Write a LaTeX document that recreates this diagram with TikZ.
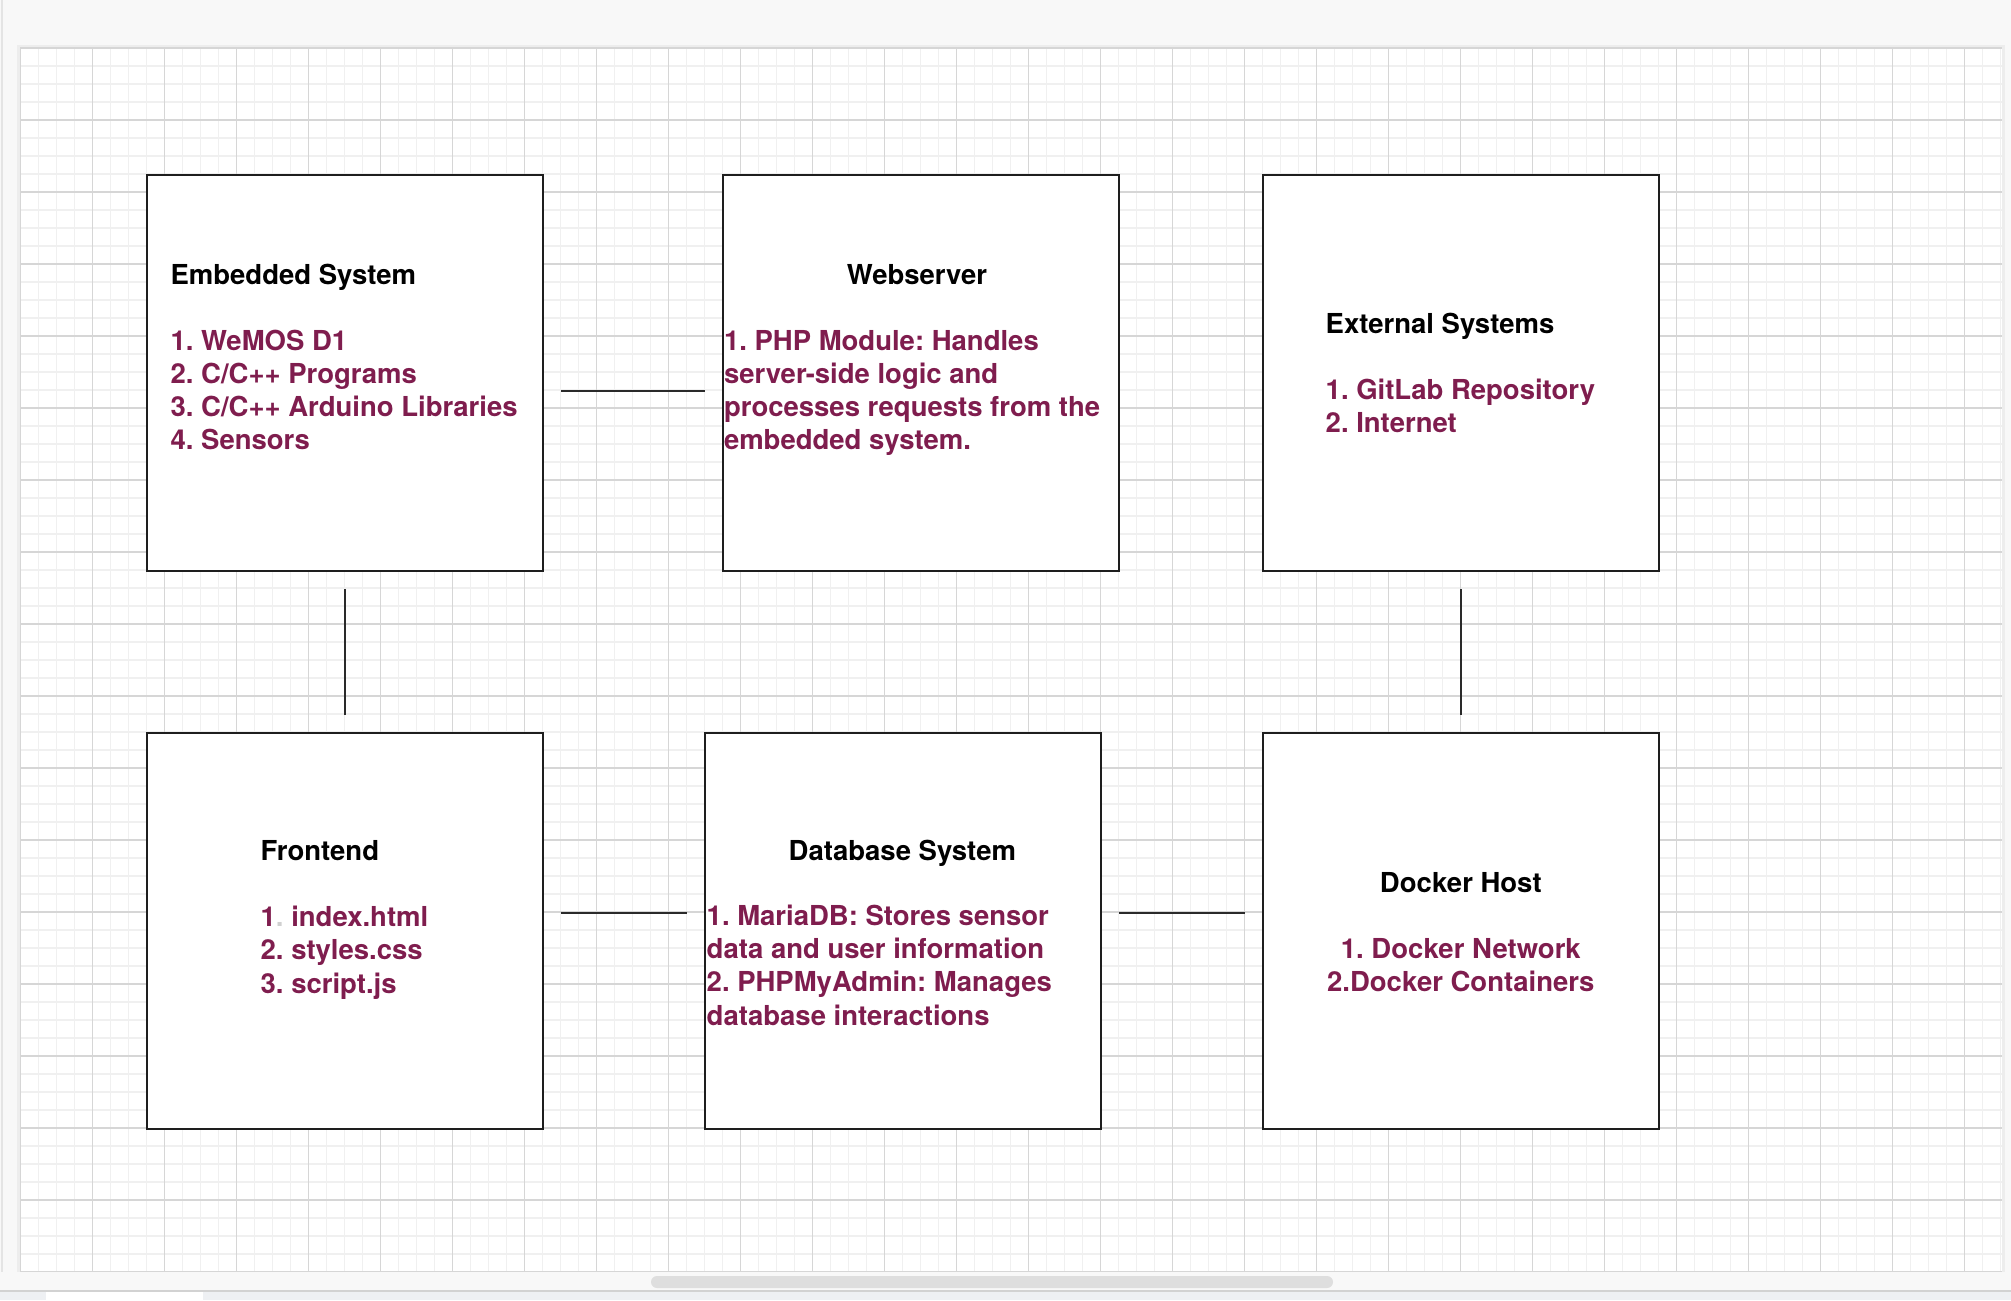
\documentclass[tikz,border=0pt]{standalone}
\usepackage{fontspec}
\setmainfont{TeX Gyre Heros}
\definecolor{itemc}{HTML}{7F1D4E}
\definecolor{dotgray}{HTML}{D0D0D0}
\definecolor{pagebg}{HTML}{F8F8F8}
\definecolor{minorc}{HTML}{F0F0F0}
\definecolor{majorc}{HTML}{D6D6D6}
\definecolor{boxc}{HTML}{1E1E1E}
\definecolor{connc}{HTML}{2A2A2A}
\definecolor{leftc}{HTML}{E4E4E4}
\definecolor{shadowc}{HTML}{EDEDED}
\definecolor{scrollc}{HTML}{DEDEDE}
\definecolor{tabbarc}{HTML}{EEF0F3}
\definecolor{tabline}{HTML}{D2D2D2}
\begin{document}
\begin{tikzpicture}[x=0.5pt,y=-0.5pt,
  boxnode/.style={draw=boxc, fill=white, line width=1pt, minimum width=198pt, minimum height=198pt, inner sep=0pt, outer sep=0pt},
  conn/.style={draw=connc, line width=1pt, shorten <=9pt, shorten >=9pt},
  txt/.style={inner sep=0pt, outer sep=0pt, font=\fontsize{13.75pt}{16.5pt}\selectfont\bfseries\frenchspacing},
  txtb/.style={inner sep=0pt, outer sep=0pt, font=\fontsize{13.75pt}{16.7pt}\selectfont\bfseries\frenchspacing},
  minorline/.style={draw=minorc, line width=0.6pt},
  majorline/.style={draw=majorc, line width=0.6pt}]
\useasboundingbox (0,0) rectangle (2011,1300);
% page background
\fill[pagebg] (0,0) rectangle (2011,1300);
\draw[draw=leftc, line width=0.6pt] (2,0) -- (2,1290);
% canvas with faint shadow
\fill[shadowc] (17,45) rectangle (2005,1274);
\fill[white] (20,48) rectangle (2002,1272);
% grid
\foreach \i in {0,...,110} \draw[minorline] ({20.5+18*\i},48) -- ({20.5+18*\i},1272);
\foreach \j in {0,...,68} \draw[minorline] (20,{48+18*\j}) -- (2002,{48+18*\j});
\foreach \i in {0,...,27} \draw[majorline] ({20.5+72*\i},48) -- ({20.5+72*\i},1272);
\foreach \j in {0,...,17} \draw[majorline] (20,{48+72*\j}) -- (2002,{48+72*\j});
% bottom bar
\fill[pagebg] (0,1272) rectangle (2011,1290);
\fill[scrollc, rounded corners=3pt] (651,1276) rectangle (1333,1288);
\fill[tabbarc] (0,1291) rectangle (2011,1300);
\draw[draw=tabline, line width=1pt] (0,1291) -- (2011,1291);
\fill[white] (46,1292) rectangle (203,1300);
% boxes
\node[boxnode] (emb) at (345,373) {};
\node[boxnode] (web) at (921,373) {};
\node[boxnode] (ext) at (1461,373) {};
\node[boxnode] (fro) at (345,931) {};
\node[boxnode] (dbs) at (903,931) {};
\node[boxnode] (doc) at (1461,931) {};
% connectors
\draw[conn] ([yshift=-9pt]emb.east) -- ([yshift=-9pt]web.west);
\draw[conn] (emb.south) -- (fro.north);
\draw[conn] (ext.south) -- (doc.north);
\draw[conn] ([yshift=9pt]fro.east) -- ([yshift=9pt]dbs.west);
\draw[conn] ([yshift=9pt]dbs.east) -- ([yshift=9pt]doc.west);
% texts
\node[txt, anchor=base west] (embt) at (170.6,284.3) {\parbox[t]{250pt}{\raggedright Embedded System\\[16.5pt]\color{itemc}1. WeMOS D1\\2. C/C++ Programs\\3. C/C++ Arduino Libraries\\4. Sensors}};
\node[txt, anchor=base] (webt) at (917,284.3) {Webserver};
\node[txt, anchor=base west] (webi) at (724,350) {\parbox[t]{250pt}{\raggedright\leavevmode\color{itemc}1. PHP Module: Handles\\server-side logic and\\processes requests from the\\embedded system.}};
\node[txt, anchor=base west] (extt) at (1325.7,333.3) {\parbox[t]{250pt}{\raggedright External Systems\\[16.5pt]\color{itemc}1. GitLab Repository\\2. Internet}};
\node[txtb, anchor=base west] (frot) at (260.7,860) {\parbox[t]{250pt}{\raggedright Frontend\\[16.5pt]\color{itemc}1\textcolor{dotgray}{.} index.html\\2. styles.css\\3. script.js}};
\node[txtb, anchor=base] (dbst) at (902.3,860) {Database System};
\node[txtb, anchor=base west] (dbsi) at (706.7,925) {\parbox[t]{250pt}{\raggedright\leavevmode\color{itemc}1. MariaDB: Stores sensor\\data and user information\\2. PHPMyAdmin: Manages\\database interactions}};
\node[txtb, anchor=base] (doct) at (1460.8,892) {\parbox[t]{250pt}{\centering Docker Host\\[16.5pt]\color{itemc}1. Docker Network\\2.Docker Containers}};
\end{tikzpicture}
\end{document}
